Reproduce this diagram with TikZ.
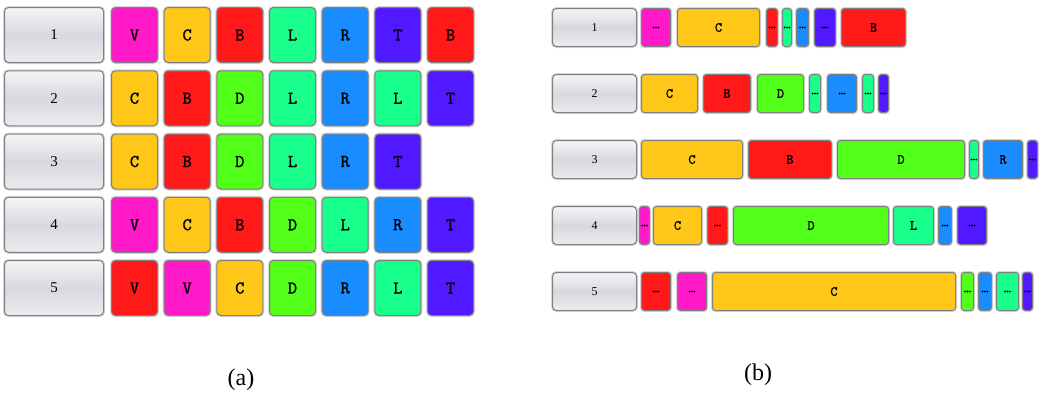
\documentclass[tikz,border=0pt]{standalone}
\usepackage{fontspec}
\setmainfont{Liberation Serif}
\newfontfamily\cellfont{Latin Modern Mono}[FakeBold=1.2]
\usepackage{xcolor}
\usetikzlibrary{positioning}
\definecolor{cellmag}{RGB}{255, 25, 200}
\definecolor{cellgold}{RGB}{255, 200, 25}
\definecolor{cellred}{RGB}{255, 25, 25}
\definecolor{celllime}{RGB}{82, 255, 25}
\definecolor{cellspring}{RGB}{25, 255, 140}
\definecolor{cellazure}{RGB}{25, 140, 255}
\definecolor{cellviolet}{RGB}{80, 25, 255}
\definecolor{lbltop}{RGB}{245, 245, 247}
\definecolor{lblmid}{RGB}{215, 217, 223}
\definecolor{lblbot}{RGB}{234, 236, 240}

\begin{document}
\begin{tikzpicture}[
  x=1pt, y=-1pt,
  every node/.style={inner sep=0pt, anchor=north west},
  base/.style={draw=black!50, line width=1pt, rounded corners=4pt, preaction={draw=black!16, line width=3pt}},
  rowlabel/.style={base, top color=lbltop, bottom color=lblbot, middle color=lblmid, minimum width=99, minimum height=55, font=\fontsize{15}{15}\selectfont},
  barlabel/.style={rowlabel, minimum width=84, minimum height=38, font=\fontsize{12}{12}\selectfont},
  cell/.style={base, fill=#1, minimum width=46, minimum height=55, font=\cellfont\fontsize{18}{18}\selectfont},
  bar/.style={base, fill=#1, rounded corners=3pt, minimum height=38, font=\cellfont\fontsize{14}{14}\selectfont},
  caption/.style={anchor=center, font=\fontsize{24}{24}\selectfont}
]
  \useasboundingbox (0,0) rectangle (1044,413);

  % (a) fixed width
  \node[rowlabel] (a1) at (4,7) {1};
  \foreach \col/\txt [count=\c] in {cellmag/V, cellgold/C, cellred/B, cellspring/L, cellazure/R, cellviolet/T, cellred/B}
    \node[cell=\col] (a1-\c) at ({111+52.67*(\c-1)}, 7) {\txt};

  \node[rowlabel] (a2) at (4,70.25) {2};
  \foreach \col/\txt [count=\c] in {cellgold/C, cellred/B, celllime/D, cellspring/L, cellazure/R, cellspring/L, cellviolet/T}
    \node[cell=\col] (a2-\c) at ({111+52.67*(\c-1)}, 70.25) {\txt};

  \node[rowlabel] (a3) at (4,133.5) {3};
  \foreach \col/\txt [count=\c] in {cellgold/C, cellred/B, celllime/D, cellspring/L, cellazure/R, cellviolet/T}
    \node[cell=\col] (a3-\c) at ({111+52.67*(\c-1)}, 133.5) {\txt};

  \node[rowlabel] (a4) at (4,196.75) {4};
  \foreach \col/\txt [count=\c] in {cellmag/V, cellgold/C, cellred/B, celllime/D, cellspring/L, cellazure/R, cellviolet/T}
    \node[cell=\col] (a4-\c) at ({111+52.67*(\c-1)}, 196.75) {\txt};

  \node[rowlabel] (a5) at (4,260) {5};
  \foreach \col/\txt [count=\c] in {cellred/V, cellmag/V, cellgold/C, celllime/D, cellazure/R, cellspring/L, cellviolet/T}
    \node[cell=\col] (a5-\c) at ({111+52.67*(\c-1)}, 260) {\txt};

  % (b) widths by duration
  \node[barlabel] (b1) at (552,8) {1};
  \foreach \col/\xa/\xb/\txt [count=\c] in {cellmag/641/670/\dots, cellgold/677/759/C, cellred/766/777/\dots, cellspring/782/791/\dots, cellazure/796/808/\dots, cellviolet/814/835/\dots, cellred/841/905/B}
    \node[bar=\col, minimum width={\xb-\xa}] (b1-\c) at (\xa,8) {\txt};

  \node[barlabel] (b2) at (552,74) {2};
  \foreach \col/\xa/\xb/\txt [count=\c] in {cellgold/641/697/C, cellred/703/750/B, celllime/757/803/D, cellspring/809/820/\dots, cellazure/827/856/\dots, cellspring/862/873/\dots, cellviolet/878/888/\dots}
    \node[bar=\col, minimum width={\xb-\xa}] (b2-\c) at (\xa,74) {\txt};

  \node[barlabel] (b3) at (552,140) {3};
  \foreach \col/\xa/\xb/\txt [count=\c] in {cellgold/641/742/C, cellred/748/831/B, celllime/837/964/D, cellspring/969/978/\dots, cellazure/983/1022/R, cellviolet/1027/1037/\dots}
    \node[bar=\col, minimum width={\xb-\xa}] (b3-\c) at (\xa,140) {\txt};

  \node[barlabel] (b4) at (552,206) {4};
  \foreach \col/\xa/\xb/\txt [count=\c] in {cellmag/639/649/\dots, cellgold/653/701/C, cellred/707/727/\dots, celllime/733/888/D, cellspring/893/933/L, cellazure/938/951/\dots, cellviolet/957/986/\dots}
    \node[bar=\col, minimum width={\xb-\xa}] (b4-\c) at (\xa,206) {\txt};

  \node[barlabel] (b5) at (552,272) {5};
  \foreach \col/\xa/\xb/\txt [count=\c] in {cellred/641/670/\dots, cellmag/677/706/\dots, cellgold/712/955/C, celllime/961/973/\dots, cellazure/978/991/\dots, cellspring/996/1018/\dots, cellviolet/1022/1032/\dots}
    \node[bar=\col, minimum width={\xb-\xa}] (b5-\c) at (\xa,272) {\txt};

  \node[caption] (capa) at (241,380) {(a)};
  \node[caption] (capb) at (758,375) {(b)};

\end{tikzpicture}
\end{document}
